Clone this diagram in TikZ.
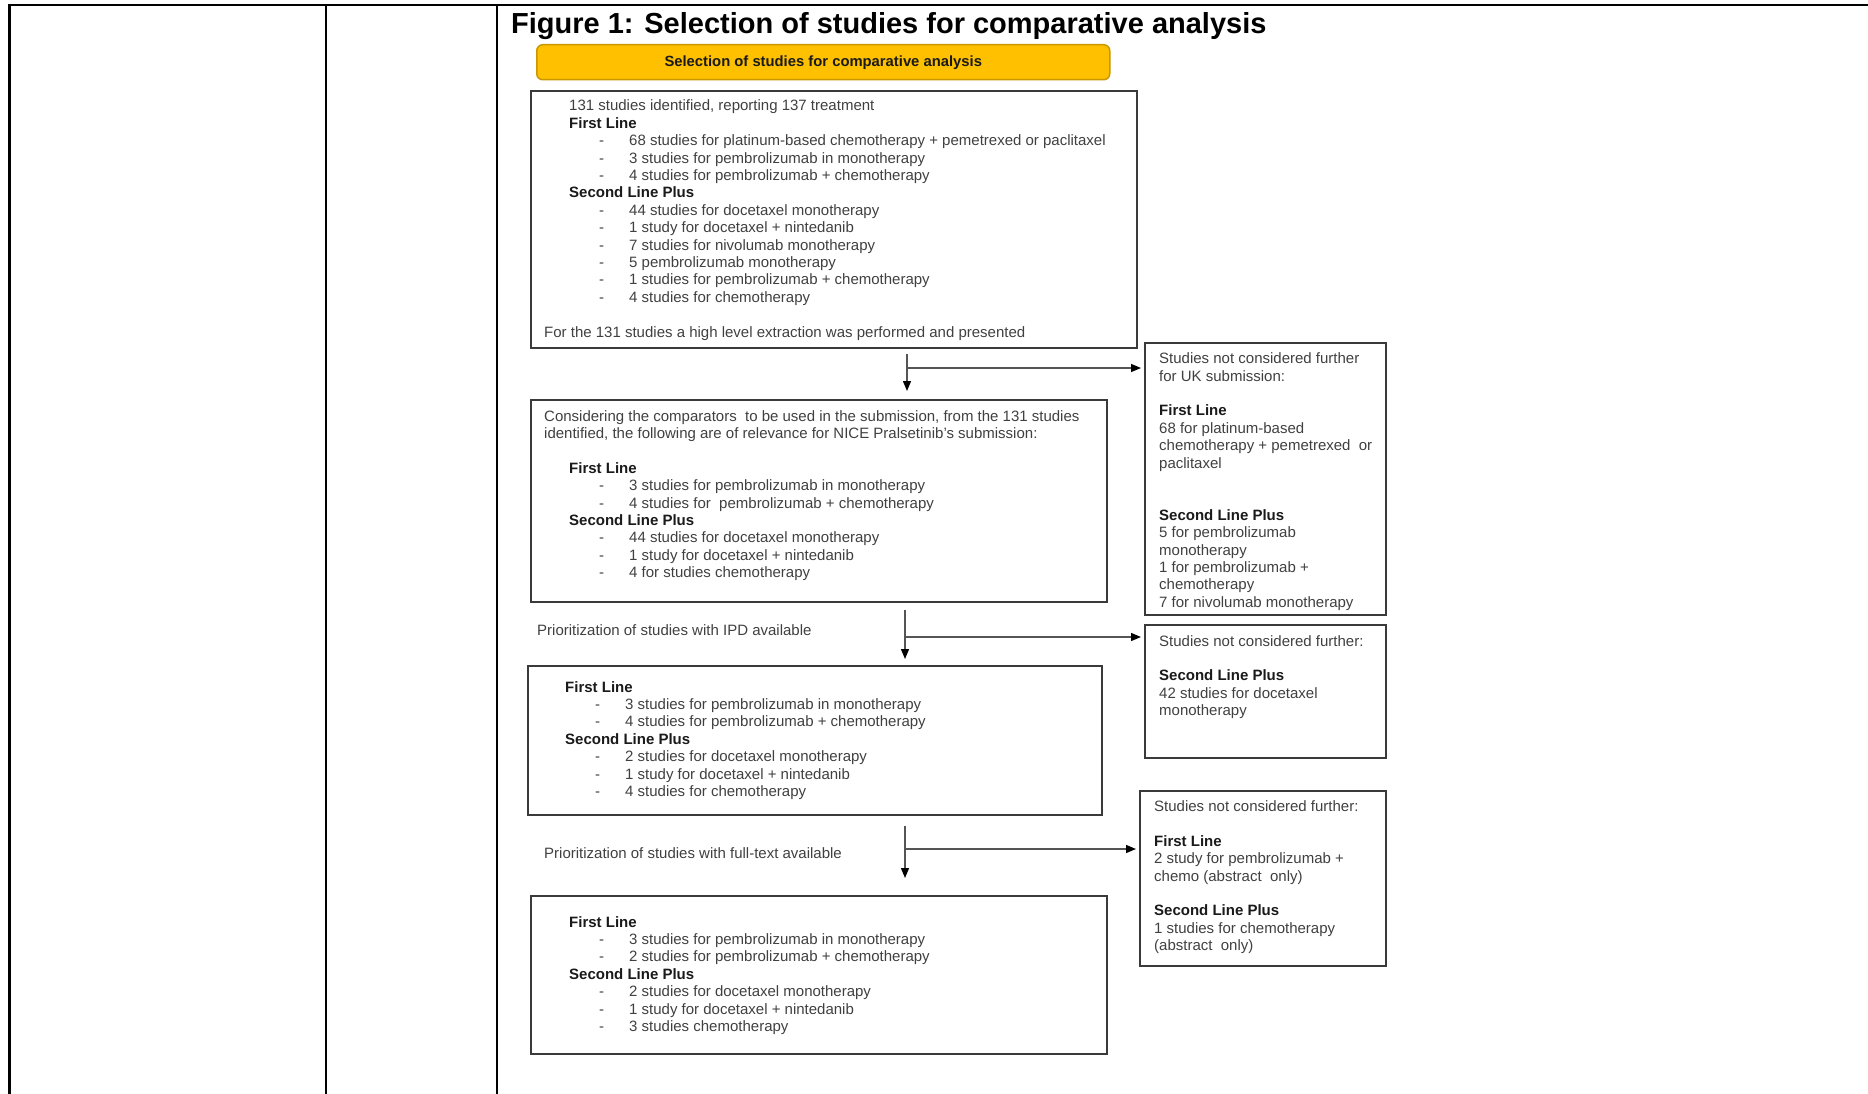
\documentclass[tikz,border=0pt]{standalone}
\usepackage{fontspec}
\setmainfont{Liberation Sans}
\usetikzlibrary{arrows.meta}
\definecolor{bodyc}{HTML}{404040}
\definecolor{headc}{HTML}{1A1A1A}
\definecolor{boxc}{HTML}{3A3A3A}
\definecolor{yelfill}{HTML}{FFC000}
\definecolor{yeldraw}{HTML}{C99700}
\definecolor{arrc}{HTML}{555555}
\newcommand\hd[1]{{\color{headc}\bfseries #1}}
\newcommand\bl[1]{\hspace*{30pt}\makebox[30pt][l]{-}#1}
\newcommand\ol[1]{\hspace*{-25pt}#1}
\newcommand\txtblock[2]{\parbox[t]{#1}{\raggedright\fontsize{15}{17.4}\selectfont\leavevmode #2}}
\begin{document}
\begin{tikzpicture}[x=1pt,y=-1pt,
  tbl/.style={line width=2.2pt, draw=black},
  box/.style={draw=boxc, line width=1.8pt, anchor=north west, inner sep=0pt, outer sep=0pt},
  txt/.style={anchor=base west, inner sep=0pt, text=bodyc},
  arr/.style={draw=arrc, line width=1.3pt, -{Triangle[length=10pt,width=8pt,color=black]}}]
\useasboundingbox (0,0) rectangle (1868,1094);
% table frame
\draw[tbl] (9.5,5) -- (1868,5);
\draw[tbl] (9.5,4) -- (9.5,1094);
\draw[tbl] (326,4) -- (326,1094);
\draw[tbl] (497,4) -- (497,1094);
% title
\node[anchor=base west, inner sep=0pt] (title) at (511,34)
  {\fontsize{29}{34}\selectfont\bfseries Figure 1: Selection of studies for comparative analysis};
% yellow header
\node[draw=yeldraw, fill=yelfill, rounded corners=6pt, line width=1.5pt,
  minimum width=573pt, minimum height=35pt, anchor=north west, inner sep=0pt] (yel) at (536,44)
  {\fontsize{14.8}{17}\selectfont\bfseries\color{headc}Selection of studies for comparative analysis};
% main boxes
\node[box, minimum width=606pt, minimum height=257pt] (b1) at (531,91) {};
\node[box, minimum width=576pt, minimum height=202pt] (b2) at (531,400) {};
\node[box, minimum width=574pt, minimum height=149pt] (b3) at (528,666) {};
\node[box, minimum width=576pt, minimum height=158pt] (b4) at (531,896) {};
% side boxes
\node[box, minimum width=241pt, minimum height=272pt] (r1) at (1145,343) {};
\node[box, minimum width=241pt, minimum height=133pt] (r2) at (1145,625) {};
\node[box, minimum width=246pt, minimum height=175pt] (r3) at (1140,791) {};
% box texts
\node[txt] (b1t) at (569,111) {\txtblock{560pt}{%
131 studies identified, reporting 137 treatment\\
\hd{First Line}\\
\bl{68 studies for platinum-based chemotherapy + pemetrexed or paclitaxel}\\
\bl{3 studies for pembrolizumab in monotherapy}\\
\bl{4 studies for pembrolizumab + chemotherapy}\\
\hd{Second Line Plus}\\
\bl{44 studies for docetaxel monotherapy}\\
\bl{1 study for docetaxel + nintedanib}\\
\bl{7 studies for nivolumab monotherapy}\\
\bl{5 pembrolizumab monotherapy}\\
\bl{1 studies for pembrolizumab + chemotherapy}\\
\bl{4 studies for chemotherapy}\\[17.4pt]
\ol{For the 131 studies a high level extraction was performed and presented}}};
\node[txt] (b2t) at (569,421) {\txtblock{560pt}{%
\ol{Considering the comparators\ \ to be used in the submission, from the 131 studies}\\
\ol{identified, the following are of relevance for NICE Pralsetinib’s submission:}\\[17.4pt]
\hd{First Line}\\
\bl{3 studies for pembrolizumab in monotherapy}\\
\bl{4 studies for\ \ pembrolizumab + chemotherapy}\\
\hd{Second Line Plus}\\
\bl{44 studies for docetaxel monotherapy}\\
\bl{1 study for docetaxel + nintedanib}\\
\bl{4 for studies chemotherapy}}};
\node[txt] (b3t) at (565,692) {\txtblock{560pt}{%
\hd{First Line}\\
\bl{3 studies for pembrolizumab in monotherapy}\\
\bl{4 studies for pembrolizumab + chemotherapy}\\
\hd{Second Line Plus}\\
\bl{2 studies for docetaxel monotherapy}\\
\bl{1 study for docetaxel + nintedanib}\\
\bl{4 studies for chemotherapy}}};
\node[txt] (b4t) at (569,927) {\txtblock{560pt}{%
\hd{First Line}\\
\bl{3 studies for pembrolizumab in monotherapy}\\
\bl{2 studies for pembrolizumab + chemotherapy}\\
\hd{Second Line Plus}\\
\bl{2 studies for docetaxel monotherapy}\\
\bl{1 study for docetaxel + nintedanib}\\
\bl{3 studies chemotherapy}}};
\node[txt] (r1t) at (1159,363.6) {\txtblock{400pt}{%
Studies not considered further\\
for UK submission:\\[17.4pt]
\hd{First Line}\\
68 for platinum-based\\
chemotherapy + pemetrexed\ \ or\\
paclitaxel\\[34.8pt]
\hd{Second Line Plus}\\
5 for pembrolizumab\\
monotherapy\\
1 for pembrolizumab +\\
chemotherapy\\
7 for nivolumab monotherapy}};
\node[txt] (r2t) at (1159,646) {\txtblock{400pt}{%
Studies not considered further:\\[17.4pt]
\hd{Second Line Plus}\\
42 studies for docetaxel\\
monotherapy}};
\node[txt] (r3t) at (1154,811.5) {\txtblock{400pt}{%
Studies not considered further:\\[17.4pt]
\hd{First Line}\\
2 study for pembrolizumab +\\
chemo (abstract\ \ only)\\[17.4pt]
\hd{Second Line Plus}\\
1 studies for chemotherapy\\
(abstract\ \ only)}};
% step labels
\node[txt] (l1) at (537,635) {\fontsize{15}{17.4}\selectfont Prioritization of studies with IPD available};
\node[txt] (l2) at (544,858) {\fontsize{15}{17.4}\selectfont Prioritization of studies with full-text available};
% connectors
\coordinate (c1) at (907,368);
\coordinate (c2) at (905,637);
\coordinate (c3) at (905,849);
\draw[arr, shorten <=6pt, shorten >=9pt] (b1.south -| c1) -- (b2.north -| c1);
\draw[arr, shorten >=4pt] (c1) -- (c1 -| r1.west);
\draw[arr, shorten <=8pt, shorten >=7pt] (b2.south -| c2) -- (b3.north -| c2);
\draw[arr, shorten >=4pt] (c2) -- (c2 -| r2.west);
\draw[arr, shorten <=11pt, shorten >=18pt] (b3.south -| c3) -- (b4.north -| c3);
\draw[arr, shorten >=4pt] (c3) -- (c3 -| r3.west);
\end{tikzpicture}
\end{document}
